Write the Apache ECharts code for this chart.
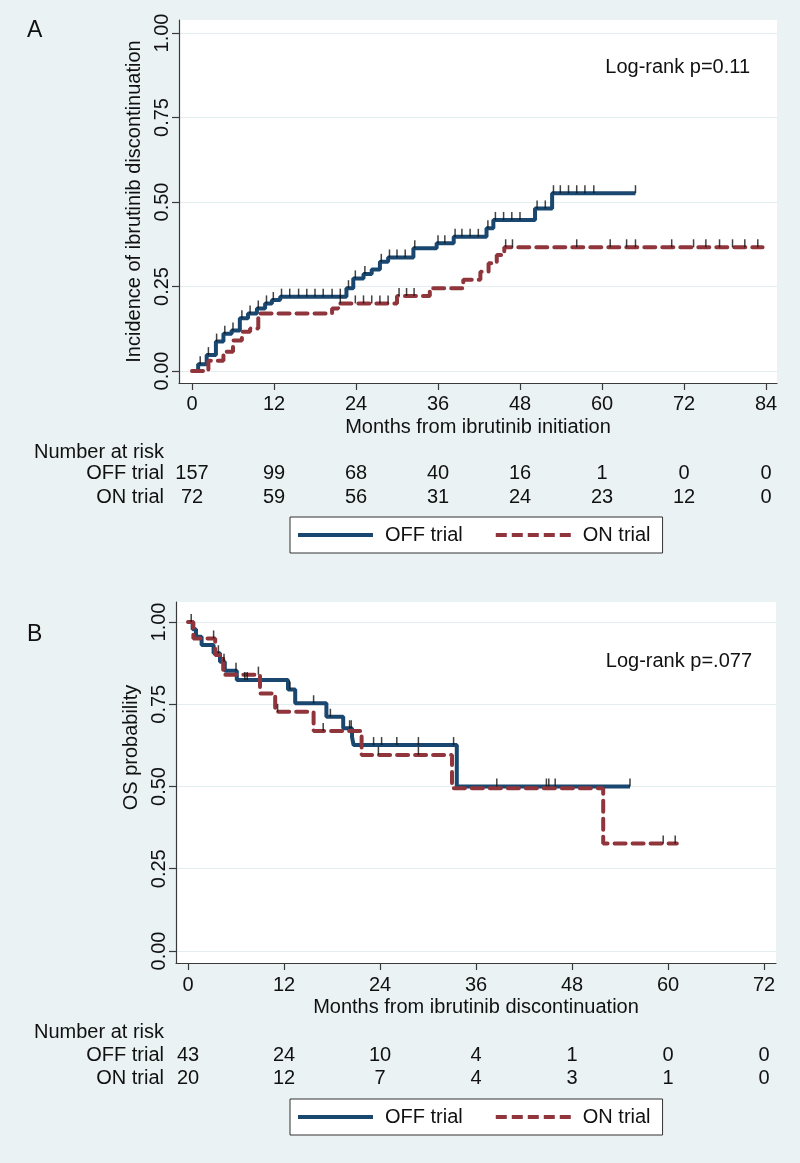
<!DOCTYPE html>
<html><head><meta charset="utf-8">
<script src="https://cdn.jsdelivr.net/npm/echarts@6/dist/echarts.min.js"></script>
<style>html,body{margin:0;padding:0;background:#eaf2f3}#c{width:800px;height:1163px}</style>
</head><body><div id="c"></div>
<script>
// ---------- data ----------
const xTicksA = [0, 12, 24, 36, 48, 60, 72, 84];
const xTicksB = [0, 12, 24, 36, 48, 60, 72];
const yTicks = [0, 0.25, 0.5, 0.75, 1];
const riskOffA = [157, 99, 68, 40, 16, 1, 0, 0];
const riskOnA = [72, 59, 56, 31, 24, 23, 12, 0];
const riskOffB = [43, 24, 10, 4, 1, 0, 0];
const riskOnB = [20, 12, 7, 4, 3, 1, 0];

// Panel A: cumulative incidence of discontinuation [month, incidence]
const offA = [[0,0],[0.9,0.02],[2.15,0.047],[3.5,0.087],[4.6,0.11],[5.8,0.12],[7.0,0.156],[8.2,0.17],[9.5,0.185],[10.7,0.20],[11.7,0.21],[12.9,0.22],[22.6,0.245],[23.6,0.274],[25.1,0.287],[26.3,0.30],[27.5,0.323],[28.7,0.336],[32.4,0.363],[35.8,0.378],[38.3,0.397],[43.1,0.422],[44.1,0.447],[50.2,0.481],[52.7,0.526],[64.9,0.526]];
const onA = [[0,0],[2.4,0.03],[4.6,0.057],[6.0,0.09],[7.3,0.116],[8.5,0.126],[9.7,0.17],[20.5,0.185],[21.4,0.20],[30.0,0.222],[34.8,0.245],[39.7,0.27],[42.2,0.294],[43.4,0.319],[44.6,0.343],[45.7,0.366],[83.5,0.366]];
const offCensA = [[1.2,0.02],[2.4,0.047],[3.6,0.087],[4.8,0.11],[6.0,0.12],[7.3,0.156],[8.5,0.17],[9.7,0.185],[10.9,0.20],[11.9,0.21],[13.1,0.22],[14.3,0.22],[15.6,0.22],[16.8,0.22],[18.0,0.22],[19.2,0.22],[20.5,0.22],[21.7,0.22],[22.9,0.245],[23.9,0.274],[25.3,0.287],[27.7,0.323],[28.9,0.336],[30.0,0.336],[31.2,0.336],[32.6,0.363],[36.0,0.378],[37.0,0.378],[38.5,0.397],[39.5,0.397],[40.7,0.397],[41.9,0.397],[43.3,0.422],[44.4,0.447],[45.6,0.447],[46.8,0.447],[48.0,0.447],[50.5,0.481],[51.7,0.481],[52.9,0.526],[53.9,0.526],[55.1,0.526],[56.3,0.526],[57.5,0.526],[58.8,0.526],[64.9,0.526]];
const onCensA = [[21.7,0.20],[23.9,0.20],[25.1,0.20],[26.3,0.20],[27.5,0.20],[28.7,0.20],[30.3,0.222],[31.4,0.222],[32.5,0.222],[45.9,0.366],[46.9,0.366],[56.3,0.366],[61.2,0.366],[63.6,0.366],[64.9,0.366],[70.2,0.366],[73.4,0.366],[75.2,0.366],[77.2,0.366],[79.1,0.366],[80.9,0.366],[82.8,0.366]];

// Panel B: overall survival [month, probability]
const offB = [[0,1],[0.58,0.978],[1.0,0.955],[1.7,0.93],[3.2,0.905],[4.0,0.879],[4.6,0.852],[6.1,0.824],[12.5,0.795],[13.4,0.753],[17.3,0.712],[19.4,0.677],[20.5,0.651],[20.7,0.626],[33.6,0.50],[55.25,0.50]];
const onB = [[0,1],[0.67,0.95],[3.4,0.90],[4.4,0.84],[9.0,0.783],[10.9,0.727],[15.7,0.669],[21.7,0.596],[33.0,0.495],[51.9,0.327],[61.1,0.327]];
const offCensB = [[0.4,1.0],[3.8,0.905],[4.5,0.879],[6.0,0.852],[7.1,0.824],[7.4,0.824],[12.75,0.795],[15.7,0.753],[17.8,0.712],[20.2,0.677],[20.4,0.677],[23.2,0.626],[24.2,0.626],[26.1,0.626],[28.8,0.626],[33.2,0.626],[38.6,0.50],[44.8,0.50],[45.1,0.50],[45.9,0.50],[55.25,0.50]];
const onCensB = [[3.2,0.95],[8.8,0.84],[11.2,0.727],[16.9,0.669],[23.8,0.596],[28.8,0.596],[59.4,0.327],[60.9,0.327]];

// ---------- style ----------
const FONT = "'Liberation Sans', Arial, Helvetica, sans-serif";
const TXT = '#111';
const AX = '#3a3a3a';
const BLUE = '#1a476f';
const RED = '#90353b';
const GRIDC = '#e3eef1';
const LW = 4;
const ts = (extra) => Object.assign({color: TXT, fontSize: 20, fontFamily: FONT}, extra || {});

function mainX(gi, ticks, min, max, title, margin) {
  return {type: 'value', gridIndex: gi, min, max, position: 'bottom',
    axisLine: {show: true, onZero: false, lineStyle: {color: AX, width: 1.2}},
    axisTick: {show: true, length: 7, customValues: ticks, lineStyle: {color: AX, width: 1.2}},
    axisLabel: ts({customValues: ticks, margin: margin}),
    splitLine: {show: false},
    name: title, nameLocation: 'middle', nameGap: 34, nameTextStyle: ts()};
}
function riskX(gi, ticks, min, max, offset, label, gap, values) {
  return {type: 'value', gridIndex: gi, min, max, position: 'bottom', offset,
    axisLine: {show: false, onZero: false}, axisTick: {show: false}, splitLine: {show: false},
    axisLabel: values ? ts({customValues: ticks, margin: 0, verticalAlign: 'middle',
      formatter: v => String(values[Math.round(v / 12)])}) : {show: false},
    name: label, nameLocation: 'start', nameGap: gap,
    nameTextStyle: ts({align: 'right', verticalAlign: 'middle'})};
}
function mainY(gi, min, max, title, shift) {
  return {type: 'value', gridIndex: gi, min, max,
    axisLine: {show: true, onZero: false, lineStyle: {color: AX, width: 1.2}},
    axisTick: {show: true, length: 7, customValues: yTicks, lineStyle: {color: AX, width: 1.2}},
    axisLabel: ts({customValues: yTicks, rotate: 90, margin: 7, formatter: v => v.toFixed(2)}),
    splitLine: {show: true, lineStyle: {color: GRIDC, width: 1}},
    name: title, nameLocation: 'middle', nameGap: 29,
    nameTextStyle: ts({padding: [0, 0, 0, shift]})};
}
function curve(name, data, xi, yi, color, dashed) {
  return {type: 'line', name, data, xAxisIndex: xi, yAxisIndex: yi, step: 'end', symbol: 'none',
    lineStyle: {color, width: LW, type: dashed ? [11, 7] : 'solid', cap: dashed ? 'round' : 'butt'},
    itemStyle: {color}, z: dashed ? 4 : 3, silent: true};
}
function cens(data, xi, yi) {
  return {type: 'scatter', data, xAxisIndex: xi, yAxisIndex: yi, symbol: 'rect',
    symbolSize: [1.5, 8], symbolOffset: [0, -4], itemStyle: {color: '#111'}, z: 6, silent: true};
}
function legend(left, top) {
  return {left, top, orient: 'horizontal', selectedMode: false,
    data: [
      {name: 'OFF trial', icon: 'path://M0,0h75v4h-75z'},
      {name: 'ON trial', icon: 'path://M0,0h11v4h-11z M16,0h11v4h-11z M32,0h11v4h-11z M48,0h11v4h-11z M64,0h11v4h-11z'}
    ],
    itemWidth: 75, itemHeight: 4, itemGap: 33, padding: [8, 12, 8, 8],
    backgroundColor: '#fff', borderColor: '#333', borderWidth: 1, borderRadius: 0,
    textStyle: ts({padding: [0, 0, 0, 7]})};
}

const chart = echarts.init(document.getElementById('c'), null, {renderer: 'canvas'});
chart.setOption({
  animation: false,
  backgroundColor: '#eaf2f3',
  grid: [
    {left: 179, top: 20, width: 598, height: 363, show: true, backgroundColor: '#fff', borderWidth: 0},
    {left: 176, top: 602, width: 600, height: 361, show: true, backgroundColor: '#fff', borderWidth: 0}
  ],
  xAxis: [
    mainX(0, xTicksA, -1.903, 85.61, 'Months from ibrutinib initiation', 11),
    riskX(0, xTicksA, -1.903, 85.61, 69, 'Number at risk', 15, null),
    riskX(0, xTicksA, -1.903, 85.61, 90, 'OFF trial', 15, riskOffA),
    riskX(0, xTicksA, -1.903, 85.61, 114, 'ON trial', 15, riskOnA),
    mainX(1, xTicksB, -1.5, 73.5, 'Months from ibrutinib discontinuation', 12),
    riskX(1, xTicksB, -1.5, 73.5, 69, 'Number at risk', 12, null),
    riskX(1, xTicksB, -1.5, 73.5, 92, 'OFF trial', 12, riskOffB),
    riskX(1, xTicksB, -1.5, 73.5, 115, 'ON trial', 12, riskOnB)
  ],
  yAxis: [
    mainY(0, -0.0355, 1.0385, 'Incidence of ibrutinib discontinuation', 0),
    mainY(1, -0.0365, 1.0608, 'OS probability', 70)
  ],
  legend: [legend(290, 517), legend(290, 1099)],
  graphic: [
    {type: 'text', left: 27, top: 19, style: {text: 'A', font: '23px ' + FONT, fill: TXT}},
    {type: 'text', left: 27, top: 623, style: {text: 'B', font: '23px ' + FONT, fill: TXT}},
    {type: 'text', right: 50, top: 57, style: {text: 'Log-rank p=0.11', font: '20px ' + FONT, fill: TXT}},
    {type: 'text', right: 48, top: 651, style: {text: 'Log-rank p=.077', font: '20px ' + FONT, fill: TXT}}
  ],
  series: [
    curve('OFF trial', offA, 0, 0, BLUE, false),
    curve('ON trial', onA, 0, 0, RED, true),
    cens(offCensA, 0, 0),
    cens(onCensA, 0, 0),
    curve('OFF trial', offB, 4, 1, BLUE, false),
    curve('ON trial', onB, 4, 1, RED, true),
    cens(offCensB, 4, 1),
    cens(onCensB, 4, 1)
  ]
});
</script></body></html>
